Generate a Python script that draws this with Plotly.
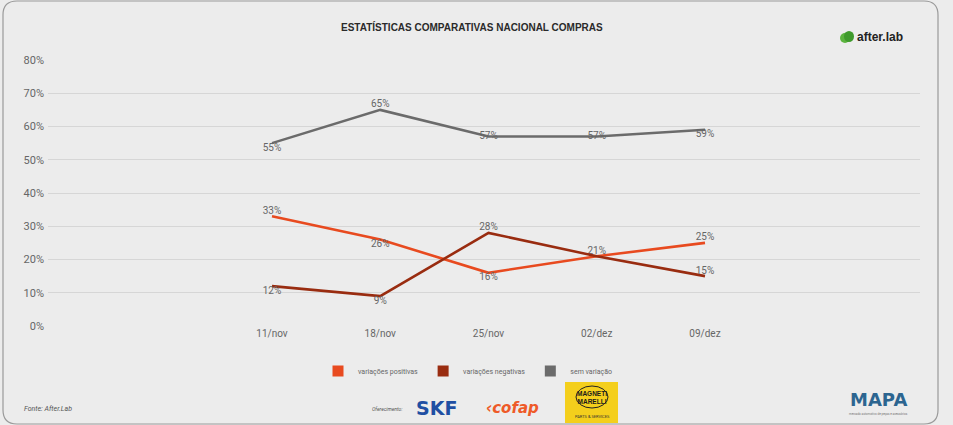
import plotly.graph_objects as go

# Weekly survey periods and share of answers per category (%)
datas = ["11/nov", "18/nov", "25/nov", "02/dez", "09/dez"]
variacoes_positivas = [33, 26, 16, 21, 25]
variacoes_negativas = [12, 9, 28, 21, 15]
sem_variacao = [55, 65, 57, 57, 59]
y_ticks = [0, 10, 20, 30, 40, 50, 60, 70, 80]

pos_text_pos = ["top center", "bottom center", "bottom center", "top center", "top center"]
neg_text_pos = ["bottom center", "bottom center", "top center", "top center", "top center"]
sem_text_pos = ["bottom center", "top center", "middle center", "middle center", "bottom center"]

COR_POS = "#e84a1f"
COR_NEG = "#992c10"
COR_SEM = "#6b6b6b"
TXT = "#666666"
FONT = "Roboto"

W, H = 953, 425
L, R, T, B = 48, 920, 60, 326          # plot area in pixels


def px(xp):
    return (xp - L) / (R - L)


def py(yp):
    return (B - yp) / (B - T)


idx = list(range(len(datas)))
fig = go.Figure()

series = [
    ("variações positivas", variacoes_positivas, COR_POS, pos_text_pos, [True] * 5),
    # the 02/dez crossing shares one label with the positive line
    ("variações negativas", variacoes_negativas, COR_NEG, neg_text_pos, [True, True, True, False, True]),
    ("sem variação", sem_variacao, COR_SEM, sem_text_pos, [True] * 5),
]
for nome, vals, cor, tpos, show in series:
    fig.add_trace(go.Scatter(
        x=idx, y=vals, mode="lines+text", name=nome,
        line=dict(color=cor, width=2.6),
        text=[f"{v}%" if s else "" for v, s in zip(vals, show)], textposition=tpos,
        textfont=dict(family=FONT, size=10, color=TXT),
        showlegend=False, cliponaxis=False,
    ))
# square legend swatches
for nome, vals, cor, tpos, show in series:
    fig.add_trace(go.Scatter(
        x=[None], y=[None], mode="markers", name=nome,
        marker=dict(symbol="square", size=11, color=cor),
    ))

step = 108.25
x0 = (L - 272) / step
x1 = (R - 272) / step

fig.update_layout(
    width=W, height=H,
    margin=dict(l=L, r=W - R, t=T, b=H - B),
    paper_bgcolor="#ececec", plot_bgcolor="#ececec",
    font=dict(family=FONT, color=TXT),
    xaxis=dict(range=[x0, x1], tickvals=idx, ticktext=datas, showgrid=False,
               zeroline=False, showline=False, ticks="",
               tickfont=dict(family=FONT, size=10, color=TXT)),
    yaxis=dict(range=[0, 80], tickvals=y_ticks,
               ticktext=[f"{v}%" for v in y_ticks],
               gridcolor="#d6d6d6", gridwidth=1, zeroline=False, showline=False,
               ticks="", ticklabelstandoff=3,
               tickfont=dict(family=FONT, size=11, color=TXT)),
    legend=dict(orientation="h", x=px(468), y=py(371), xanchor="center",
                yanchor="middle", bgcolor="rgba(0,0,0,0)",
                font=dict(family=FONT, size=7, color=TXT),
                itemwidth=30, tracegroupgap=0),
    showlegend=True,
)

ann = []
shapes = []


def note(text, x, y, size, color, family=FONT, xanchor="center"):
    ann.append(dict(text=text, x=px(x), y=py(y), xref="paper", yref="paper",
                    xanchor=xanchor, yanchor="middle", showarrow=False,
                    font=dict(family=family, size=size, color=color)))


# title
note("<b>ESTATÍSTICAS COMPARATIVAS NACIONAL COMPRAS</b>", 472, 27, 10, "#2a2a2a",
     family="Liberation Sans")

# after.lab mark
shapes.append(dict(type="circle", xref="paper", yref="paper",
                   x0=px(840), x1=px(850), y0=py(43), y1=py(33),
                   fillcolor="#5cb43f", line=dict(width=0)))
shapes.append(dict(type="circle", xref="paper", yref="paper",
                   x0=px(844), x1=px(854), y0=py(42), y1=py(31),
                   fillcolor="#3f9a2c", line=dict(width=0)))
note("<b>after.lab</b>", 855, 37, 12, "#222222", family="Liberation Sans", xanchor="left")

# source and sponsors
note("<i>Fonte: After.Lab</i>", 22, 409, 7, "#555555", xanchor="left")
note("<i>Oferecimento:</i>", 405, 409, 5, "#555555", xanchor="right")
note("<b>SKF</b>", 414, 408, 19, "#1f4fa3", family="DejaVu Sans", xanchor="left")
note("<b><i>‹cofap</i></b>", 484, 408, 15, "#ee5a28", family="DejaVu Sans", xanchor="left")
shapes.append(dict(type="rect", xref="paper", yref="paper",
                   x0=px(565), x1=px(618), y0=py(423), y1=py(382),
                   fillcolor="#f4cf1c", line=dict(width=0)))
shapes.append(dict(type="circle", xref="paper", yref="paper",
                   x0=px(576), x1=px(608), y0=py(408), y1=py(386),
                   fillcolor="rgba(0,0,0,0)", line=dict(width=1, color="#222")))
note("<b>MAGNETI<br>MARELLI</b>", 592, 397, 6.5, "#1a1a1a", family="Liberation Sans")
note("PARTS & SERVICES", 592, 416, 4, "#333333")
note("<b>MAPA</b>", 878, 399, 18, "#2c6590", family="DejaVu Sans")
note("mercado automotivo de peças e acessórios", 878, 414, 3, "#777777")

# rounded frame around the panel
fx0, fx1, fy0, fy1, rr = 3, 938, 1, 424, 14
path = (f"M {fx0} {fy0 + rr} Q {fx0} {fy0} {fx0 + rr} {fy0} "
        f"L {fx1 - rr} {fy0} Q {fx1} {fy0} {fx1} {fy0 + rr} "
        f"L {fx1} {fy1 - rr} Q {fx1} {fy1} {fx1 - rr} {fy1} "
        f"L {fx0 + rr} {fy1} Q {fx0} {fy1} {fx0} {fy1 - rr} Z")


def conv(path_str):
    out = []
    toks = path_str.split()
    i = 0
    while i < len(toks):
        t = toks[i]
        if t.isalpha():
            out.append(t)
            i += 1
        else:
            xv, yv = float(toks[i]), float(toks[i + 1])
            out.append(f"{px(xv):.5f},{py(yv):.5f}")
            i += 2
    return " ".join(out)


shapes.append(dict(type="path", xref="paper", yref="paper", path=conv(path),
                   line=dict(color="#9a9a9a", width=1.2), fillcolor="rgba(0,0,0,0)",
                   layer="below"))

fig.update_layout(annotations=ann, shapes=shapes)
fig.write_html("out.html")
